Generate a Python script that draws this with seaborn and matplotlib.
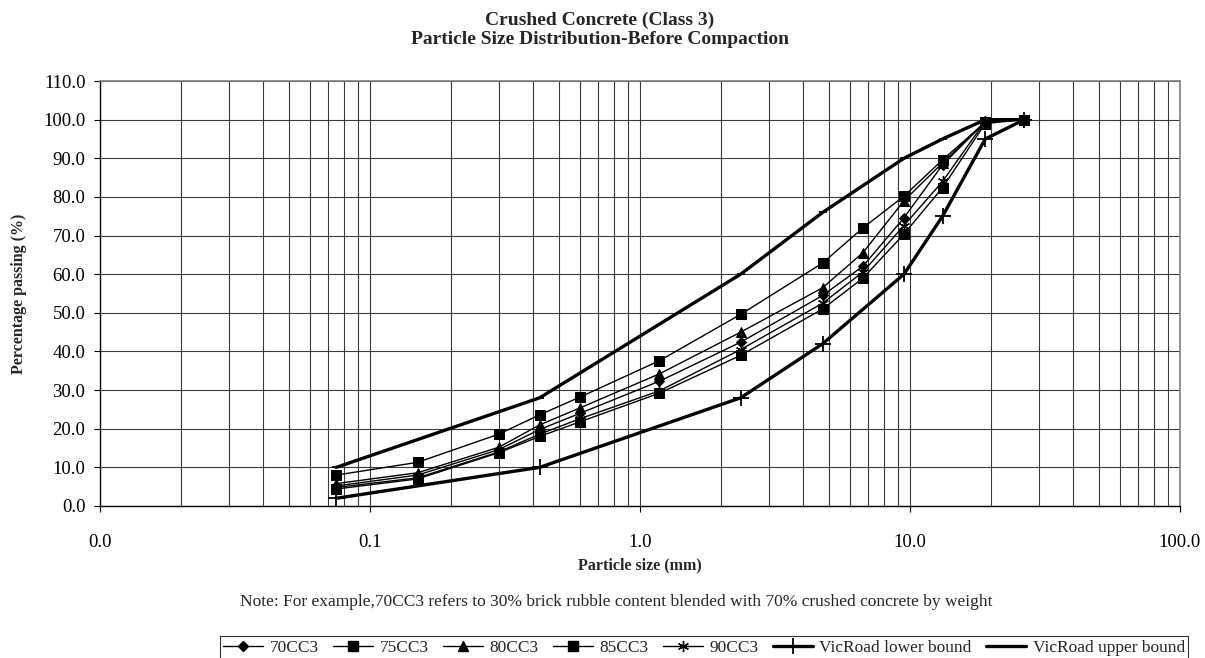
import matplotlib
matplotlib.use("Agg")
import matplotlib.pyplot as plt
from matplotlib.ticker import LogLocator, FixedLocator, FuncFormatter
from matplotlib.lines import Line2D
import seaborn as sns
import pandas as pd

# ---------------- data ----------------
sieve_mm = [0.075, 0.15, 0.3, 0.425, 0.6, 1.18, 2.36, 4.75, 6.7, 9.5, 13.2, 19.0, 26.5]
cc70 = [5.2, 8.0, 14.6, 19.8, 24.0, 32.3, 42.4, 54.5, 62.1, 74.6, 88.3, 99.4, 100.0]
cc75 = [8.0, 11.3, 18.6, 23.6, 28.2, 37.6, 49.6, 62.9, 72.0, 80.2, 89.6, 99.3, 100.0]
cc80 = [5.8, 8.6, 15.2, 21.0, 25.4, 34.2, 45.0, 56.5, 65.6, 79.0, 88.8, 99.5, 100.0]
cc85 = [4.4, 7.0, 13.8, 18.0, 21.8, 29.2, 39.0, 51.0, 59.0, 70.4, 82.4, 99.0, 100.0]
cc90 = [4.8, 7.3, 14.0, 18.6, 22.6, 29.8, 40.5, 52.5, 60.6, 72.6, 84.0, 99.6, 100.0]

bound_mm = [0.075, 0.425, 2.36, 4.75, 9.5, 13.2, 19.0, 26.5]
vic_lower = [2.0, 10.0, 28.0, 42.0, 60.0, 75.0, 95.0, 100.0]
vic_upper = [10.0, 28.0, 60.0, 76.0, 90.0, 95.0, 100.0, 100.0]

series_names = ["70CC3", "75CC3", "80CC3", "85CC3", "90CC3"]
series_values = [cc70, cc75, cc80, cc85, cc90]
bound_names = ["VicRoad lower bound", "VicRoad upper bound"]
x_tick_values = [0.01, 0.1, 1, 10, 100]
y_tick_values = list(range(0, 111, 10))

title_line1 = "Crushed Concrete (Class 3)"
title_line2 = "Particle Size Distribution-Before Compaction"
xlabel_text = "Particle size (mm)"
ylabel_text = "Percentage passing (%)"
note_text = ("Note: For example,70CC3 refers to 30% brick rubble content blended "
             "with 70% crushed concrete by weight")

# ---------------- style ----------------
sns.set_theme(style="white")
plt.rcParams["font.family"] = ["Liberation Serif", "DejaVu Serif"]
plt.rcParams["axes.unicode_minus"] = False

fig = plt.figure(figsize=(12.05, 6.58), dpi=100)
ax = fig.add_axes([100 / 1205, 1 - 506 / 658, 1080 / 1205, 425 / 658])

marker_styles = {
    "70CC3": dict(marker="D", markersize=5.5),
    "75CC3": dict(marker="s", markersize=6.5),
    "80CC3": dict(marker="^", markersize=6.5),
    "85CC3": dict(marker="s", markersize=6.5),
    "90CC3": dict(marker=(6, 2, 0), markersize=8, markeredgewidth=1.0),
}

rows = []
for name, vals in zip(series_names, series_values):
    for s, v in zip(sieve_mm, vals):
        rows.append({"size": s, "passing": v, "series": name})
df = pd.DataFrame(rows)

handles = []
for name in series_names:
    sub = df[df["series"] == name]
    st = marker_styles[name]
    sns.lineplot(data=sub, x="size", y="passing", ax=ax, color="black",
                 linewidth=1.0, estimator=None, sort=False,
                 markeredgecolor="black", markerfacecolor="black", **st)
    handles.append(Line2D([], [], color="black", linewidth=1.0,
                          markeredgecolor="black", markerfacecolor="black", **st))

bdf = pd.DataFrame({"size": bound_mm, "lower": vic_lower, "upper": vic_upper})
sns.lineplot(data=bdf, x="size", y="lower", ax=ax, color="black", linewidth=2.4,
             marker="+", markersize=11, markeredgewidth=1.3,
             markeredgecolor="black", estimator=None, sort=False)
handles.append(Line2D([], [], color="black", linewidth=2.4, marker="+",
                      markersize=11, markeredgewidth=1.3))
sns.lineplot(data=bdf, x="size", y="upper", ax=ax, color="black", linewidth=2.4,
             marker="_", markersize=6, markeredgewidth=1.3,
             markeredgecolor="black", estimator=None, sort=False)
handles.append(Line2D([], [], color="black", linewidth=2.4, marker="_",
                      markersize=6, markeredgewidth=1.3))

# ---------------- axes ----------------
ax.set_xscale("log")
ax.set_xlim(0.01, 100)
ax.set_ylim(0, 110)
ax.xaxis.set_major_locator(FixedLocator(x_tick_values))
ax.xaxis.set_minor_locator(LogLocator(base=10, subs=range(2, 10), numticks=20))
ax.xaxis.set_major_formatter(FuncFormatter(lambda v, p: f"{v:.1f}"))
ax.xaxis.set_minor_formatter(FuncFormatter(lambda v, p: ""))
ax.yaxis.set_major_locator(FixedLocator(y_tick_values))
ax.yaxis.set_major_formatter(FuncFormatter(lambda v, p: f"{v:.1f}"))

ax.grid(True, which="both", axis="x", color="#3a3a3a", linewidth=0.8)
ax.grid(True, which="major", axis="y", color="#3a3a3a", linewidth=0.8)
ax.set_axisbelow(True)

ax.tick_params(axis="x", which="major", direction="out", length=4.5, width=0.8,
               pad=16, labelsize=13.5, colors="black", bottom=True)
ax.tick_params(axis="x", which="minor", length=0)
ax.tick_params(axis="y", which="major", direction="out", length=4.5, width=0.8,
               pad=6, labelsize=13.5, colors="black", left=True)

for side in ["left", "bottom"]:
    ax.spines[side].set_color("black")
    ax.spines[side].set_linewidth(1.0)
for side in ["top", "right"]:
    ax.spines[side].set_color("#808080")
    ax.spines[side].set_linewidth(1.2)

ax.set_xlabel(xlabel_text, fontsize=11.5, fontweight="bold")
ax.set_ylabel(ylabel_text, fontsize=11.5, fontweight="bold")
ax.xaxis.set_label_coords(0.5, -0.122)
ax.yaxis.set_label_coords(-0.068, 0.5)

fig.text(600 / 1205, 1 - 20 / 658, title_line1, fontsize=14,
         fontweight="bold", ha="center", va="center")
fig.text(600 / 1205, 1 - 40 / 658, title_line2, fontsize=14,
         fontweight="bold", ha="center", va="center")
fig.text(616 / 1205, 1 - 602 / 658, note_text, fontsize=12.5, ha="center",
         va="center")

leg = fig.legend(handles, series_names + bound_names,
                 loc="upper center", bbox_to_anchor=(704 / 1205, 1 - 636 / 658),
                 borderaxespad=0, ncol=7, frameon=True, fancybox=False,
                 shadow=False, fontsize=12.5, handlelength=2.3,
                 handletextpad=0.4, columnspacing=0.8, borderpad=0.2,
                 edgecolor="black")
leg.get_frame().set_linewidth(0.8)

fig.savefig("out.png", dpi=100)
